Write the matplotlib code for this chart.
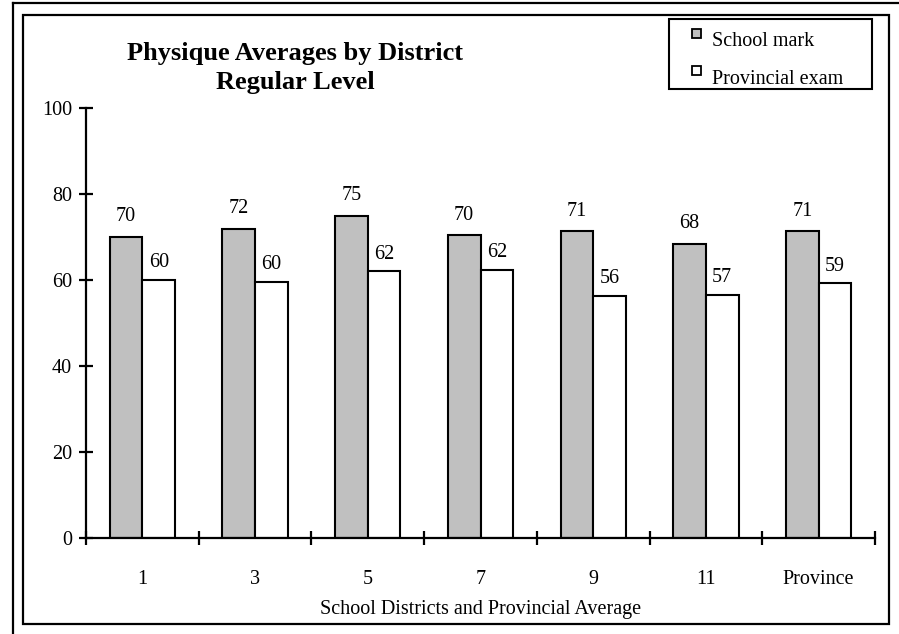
import matplotlib.pyplot as plt
import matplotlib.patches as patches
from matplotlib.lines import Line2D
import numpy as np

plt.rcParams['font.family'] = ['Liberation Serif', 'DejaVu Serif']

# data
districts = ["1", "3", "5", "7", "9", "11", "Province"]
series_names = ["School mark", "Provincial exam"]
school_mark = [70.1, 71.9, 75.0, 70.4, 71.3, 68.4, 71.3]
prov_exam = [60.0, 59.6, 62.0, 62.4, 56.3, 56.6, 59.2]
y_ticks = [0, 20, 40, 60, 80, 100]
colors = ["#c0c0c0", "white"]

W, H = 899, 634
fig = plt.figure(figsize=(W / 100, H / 100), dpi=100)


def fx(px):
    return px / W


def fy(py):
    return 1 - py / H


# page frames (outer one is cut by the picture edge)
fig.add_artist(Line2D([fx(13), 1.0], [fy(3), fy(3)], color="black", lw=1.6))
fig.add_artist(Line2D([fx(13), fx(13)], [fy(3), 0.0], color="black", lw=1.6))
fig.add_artist(patches.Rectangle((fx(23), fy(624)), fx(889) - fx(23), fy(15) - fy(624),
                                 fill=False, ec="black", lw=1.6, transform=fig.transFigure))

ax = fig.add_axes([fx(86), fy(538), fx(875) - fx(86), fy(108) - fy(538)])
ax.patch.set_alpha(0)

x = np.arange(len(districts))
w = 0.29
b1 = ax.bar(x - w / 2, school_mark, w, color=colors[0], edgecolor="black", lw=1.5)
b2 = ax.bar(x + w / 2, prov_exam, w, color=colors[1], edgecolor="black", lw=1.5)

ax.bar_label(b1, fmt="%.0f", padding=7.5, fontsize=14.5)
ax.bar_label(b2, fmt="%.0f", padding=5.5, fontsize=14.5)

ax.set_xlim(-0.5, len(districts) - 0.5)
ax.set_ylim(0, 100)
for s in ["top", "right"]:
    ax.spines[s].set_visible(False)
for s in ["left", "bottom"]:
    ax.spines[s].set_linewidth(1.6)

ax.set_yticks(y_ticks)
ax.tick_params(axis="y", direction="inout", length=10, width=1.6, pad=5, labelsize=14.5)
ax.set_xticks(x)
ax.set_xticklabels(districts)
ax.set_xticks(np.arange(len(districts) + 1) - 0.5, minor=True)
ax.tick_params(axis="x", which="major", length=0, pad=23, labelsize=14.5)
ax.tick_params(axis="x", which="minor", direction="inout", length=10, width=1.6)
ax.set_xlabel("School Districts and Provincial Average", fontsize=14.5, labelpad=8)

fig.text(fx(295), fy(68), "Physique Averages by District\nRegular Level", ha="center", va="center",
         fontsize=19, fontweight="bold", linespacing=1.35)

# legend box, drawn by hand like the original
fig.add_artist(patches.Rectangle((fx(669), fy(89)), fx(872) - fx(669), fy(19) - fy(89),
                                 fill=False, ec="black", lw=1.5, transform=fig.transFigure))
for i, (name, c) in enumerate(zip(series_names, colors)):
    top = 29 + i * 37
    fig.add_artist(patches.Rectangle((fx(692), fy(top + 9)), fx(701) - fx(692), fy(top) - fy(top + 9),
                                     fc=c, ec="black", lw=1.3, transform=fig.transFigure))
    fig.text(fx(712), fy(top + 13), name, ha="left", va="center", fontsize=14.5)

fig.savefig("out.png", dpi=100)
